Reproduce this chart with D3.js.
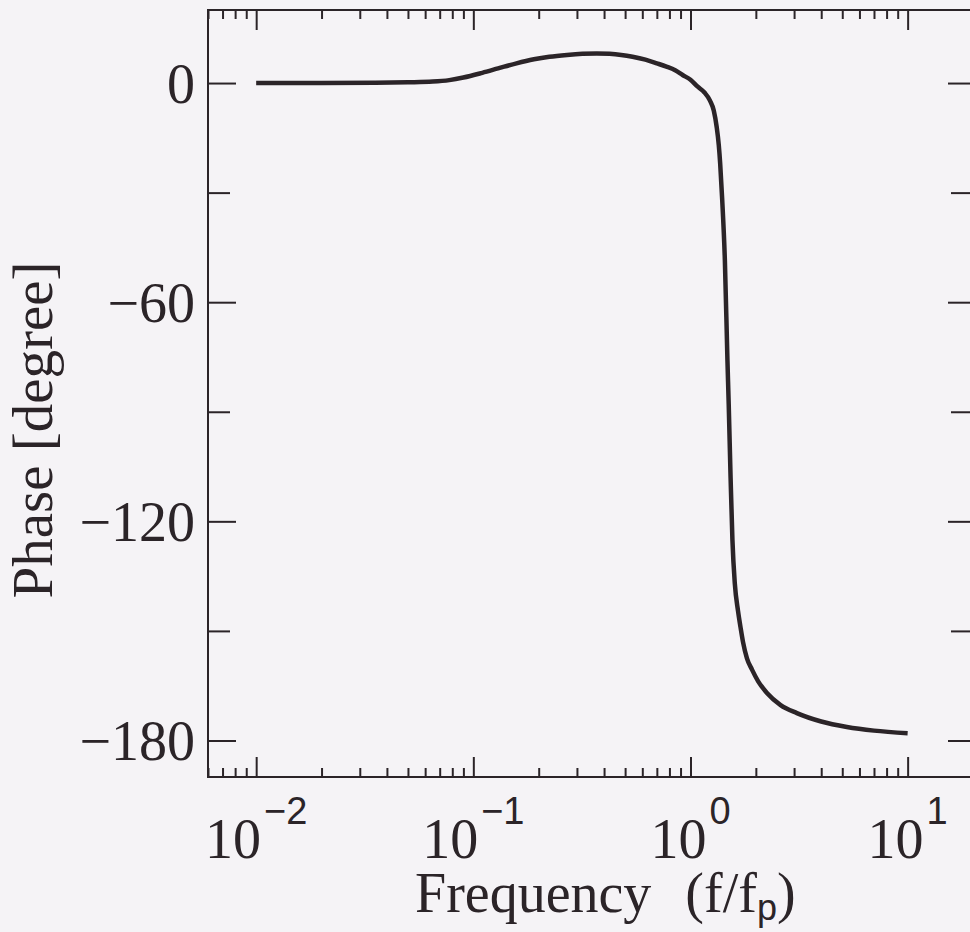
<!DOCTYPE html>
<meta charset="utf-8">
<style>
  body {
    margin: 0;
    background: #f5f3f6;
  }

  svg {
    display: block;
    font-family: "Liberation Serif", "DejaVu Serif", serif;
  }

  .frame {
    fill: none;
    stroke: #2b2428;
    stroke-width: 2px;
  }

  .tick line {
    stroke: #2b2428;
    stroke-width: 2px;
  }

  .domain {
    display: none;
  }

  .curve {
    fill: none;
    stroke: #2b2428;
    stroke-width: 4.5px;
    stroke-linejoin: round;
  }

  text {
    fill: #2b2428;
  }

  .sans {
    font-family: "Liberation Sans", Arial, sans-serif;
  }
</style>

<body>
  <svg id="chart"></svg>

  <script src="https://cdn.jsdelivr.net/npm/d3@7"></script>
  <script>
    // phase curve (f/fp, degree)
    var freq = [0.01, 0.02, 0.035, 0.05, 0.065, 0.0775, 0.09, 0.11, 0.13, 0.158, 0.19, 0.224, 0.27, 0.318,
      0.37, 0.424, 0.48, 0.541, 0.62, 0.7, 0.775, 0.85, 0.92, 1.0, 1.08, 1.16, 1.23, 1.28, 1.32, 1.35, 1.37,
      1.40, 1.44, 1.48, 1.50, 1.53, 1.56, 1.60, 1.655, 1.70, 1.745, 1.82, 1.92, 2.05, 2.25, 2.6, 3.09,
      4.0, 5.25, 7.0, 10];
    var phase = [0, 0, 0.05, 0.2, 0.4, 0.8, 1.5, 2.8, 4.0, 5.4, 6.5, 7.2, 7.7, 8.0,
      8.1, 8.0, 7.7, 7.2, 6.4, 5.4, 4.5, 3.5, 2.2, 0.9, -1.0, -2.6, -4.8, -7.5, -12, -17, -22,
      -32, -48.5, -76, -88, -108, -125, -137, -144.5, -149, -153, -157.5, -160.6, -163.8, -167, -170.3, -172.5,
      -174.8, -176.3, -177.3, -178];

    var xMajor = [0.01, 0.1, 1, 10];
    var xExponent = ["\u22122", "\u22121", "0", "1"];
    var xMinor = [0.006, 0.007, 0.008, 0.009,
      0.02, 0.03, 0.04, 0.05, 0.06, 0.07, 0.08, 0.09,
      0.2, 0.3, 0.4, 0.5, 0.6, 0.7, 0.8, 0.9,
      2, 3, 4, 5, 6, 7, 8, 9];
    var yMajor = [0, -60, -120, -180];
    var yMinor = [-30, -90, -150];

    var width = 970,
      height = 932;
    var plotLeft = 208,
      plotRight = 973,
      plotTop = 10,
      plotBottom = 777;

    var svg = d3.select("#chart")
      .attr("width", width)
      .attr("height", height);

    var x = d3.scaleLog()
      .domain([0.006, 20])
      .range([plotLeft, plotRight]);

    var y = d3.scaleLinear()
      .domain([-190, 20])
      .range([plotBottom, plotTop]);

    // ticks point inwards on all four sides
    function addAxis(axis, tx, ty) {
      svg.append("g")
        .attr("transform", "translate(" + tx + "," + ty + ")")
        .call(axis.tickSizeOuter(0).tickFormat(""));
    }

    addAxis(d3.axisBottom(x).tickValues(xMajor).tickSizeInner(-20), 0, plotBottom);
    addAxis(d3.axisBottom(x).tickValues(xMinor).tickSizeInner(-9), 0, plotBottom);
    addAxis(d3.axisTop(x).tickValues(xMajor).tickSizeInner(-20), 0, plotTop);
    addAxis(d3.axisTop(x).tickValues(xMinor).tickSizeInner(-9), 0, plotTop);
    addAxis(d3.axisLeft(y).tickValues(yMajor).tickSizeInner(-28), plotLeft, 0);
    addAxis(d3.axisLeft(y).tickValues(yMinor).tickSizeInner(-22), plotLeft, 0);
    addAxis(d3.axisRight(y).tickValues(yMajor).tickSizeInner(-25), plotRight, 0);
    addAxis(d3.axisRight(y).tickValues(yMinor).tickSizeInner(-22), plotRight, 0);

    svg.append("rect")
      .attr("class", "frame")
      .attr("x", plotLeft)
      .attr("y", plotTop)
      .attr("width", plotRight - plotLeft)
      .attr("height", plotBottom - plotTop);

    // y tick labels
    svg.append("g")
      .selectAll("text")
      .data(yMajor)
      .enter().append("text")
      .attr("x", plotLeft - 13)
      .attr("y", function (d) { return y(d); })
      .attr("dy", "0.35em")
      .attr("text-anchor", "end")
      .style("font-size", "56px")
      .text(function (d) { return d < 0 ? "\u2212" + (-d) : d; });

    // x tick labels, 10 with a raised exponent
    var xl = svg.append("g")
      .selectAll("text")
      .data(xMajor)
      .enter().append("text")
      .attr("x", function (d) { return x(d); })
      .attr("y", 858)
      .attr("text-anchor", "middle")
      .style("font-size", "56px");
    xl.append("tspan").text("10");
    xl.append("tspan")
      .attr("class", "sans")
      .attr("dx", 3)
      .attr("dy", -34)
      .style("font-size", "38px")
      .text(function (d, i) { return xExponent[i]; });

    // axis titles
    var xt = svg.append("text")
      .attr("x", 415)
      .attr("y", 912)
      .style("font-size", "56px");
    xt.append("tspan").text("Frequency");
    xt.append("tspan").attr("dx", 34).text("(f/f");
    xt.append("tspan").attr("class", "sans").attr("dy", 8).style("font-size", "36px").text("p");
    xt.append("tspan").attr("dy", -8).text(")");

    svg.append("text")
      .attr("transform", "translate(52,430)rotate(-90)")
      .attr("text-anchor", "middle")
      .style("font-size", "57px")
      .text("Phase [degree]");

    var line = d3.line()
      .x(function (d) { return x(d[0]); })
      .y(function (d) { return y(d[1]); })
      .curve(d3.curveMonotoneX);

    svg.append("path")
      .datum(freq.map(function (f, i) { return [f, phase[i]]; }))
      .attr("class", "curve")
      .attr("d", line);
  </script>
</body>
